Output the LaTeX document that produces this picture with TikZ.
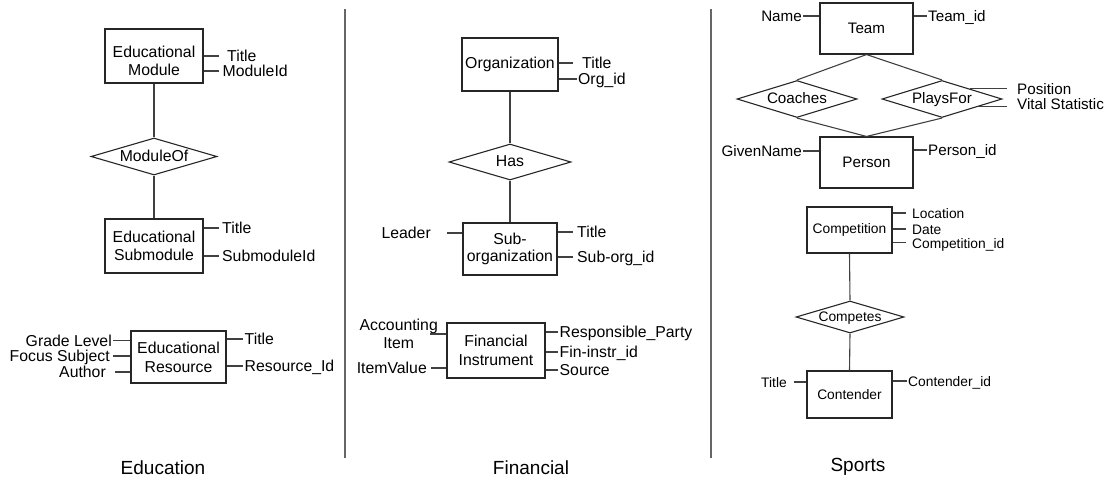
\documentclass[tikz,border=0pt]{standalone}
\usepackage{fontspec}
\setmainfont{Liberation Sans}
\usetikzlibrary{shapes.geometric}
\newcommand\fA{\fontsize{15.8}{18.5}\selectfont}
\newcommand\fAs{\fontsize{15.8}{17}\selectfont}
\newcommand\fAw{\fontsize{15.8}{19}\selectfont}
\newcommand\fB{\fontsize{15.2}{17}\selectfont}
\newcommand\fC{\fontsize{13.8}{16}\selectfont}
\newcommand\fD{\fontsize{19}{22}\selectfont}
\begin{document}
\begin{tikzpicture}[x=1pt,y=-1pt,
 ent/.style={draw=black!85, line width=1.1pt, rectangle, align=center, inner sep=0pt},
 rel/.style={draw=black!85, line width=1.1pt, diamond, aspect=3.4, inner sep=0pt, text height=9pt, text depth=0pt},
 attrR/.style={anchor=west, inner xsep=2pt, inner ysep=0pt, text height=11pt, text depth=0pt},
 attrL/.style={anchor=east, inner xsep=2pt, inner ysep=0pt, text height=11pt, text depth=0pt},
 conn/.style={draw=black!75, line width=1.1pt},
 divider/.style={draw=black!60, line width=1.3pt},
 caption/.style={font=\fD, inner sep=0pt}
]
\useasboundingbox (0,0) rectangle (1112,483);

% ---------------- Education ----------------
\node[ent, font=\fA, minimum width=98, minimum height=54] (em) at (154,56)
  {\raisebox{-7pt}[\height][\depth]{\begin{tabular}{@{}c@{}}Educational\\Module\end{tabular}}};
\node[attrR, font=\fA, inner xsep=8pt] (emT) at (219,56) {Title};
\node[attrR, font=\fA, inner xsep=3.5pt] (emI) at (219,71) {ModuleId};
\draw[conn] (em.east |- emT.west) -- (emT.west);
\draw[conn] (em.east |- emI.west) -- (emI.west);

\node[rel, font=\fA, aspect=3.4, minimum width=126, minimum height=37] (mo) at (154,156.5) {ModuleOf};
\draw[conn] (em.south) -- (mo.north);

\node[ent, font=\fA, minimum width=98, minimum height=54] (es) at (154,246) {Educational\\Submodule};
\draw[conn] (mo.south) -- (es.north);
\node[attrR, font=\fA, inner xsep=3pt] (esT) at (219,228) {Title};
\node[attrR, font=\fA, inner xsep=3pt] (esI) at (219,256) {SubmoduleId};
\draw[conn] (es.east |- esT.west) -- (esT.west);
\draw[conn] (es.east |- esI.west) -- (esI.west);

\node[ent, font=\fAw, minimum width=95, minimum height=52] (er) at (178.5,357) {Educational\\Resource};
\node[attrR, font=\fA, inner xsep=1.5pt] (erT) at (243,339) {Title};
\node[attrR, font=\fA, inner xsep=1.5pt] (erI) at (243,366) {Resource\_Id};
\draw[conn] (er.east |- erT.west) -- (erT.west);
\draw[conn] (er.east |- erI.west) -- (erI.west);
\node[attrL, font=\fA, inner xsep=1pt] (erG) at (113,340.5) {Grade Level};
\node[attrL, font=\fA, inner xsep=3pt] (erF) at (113,356) {Focus Subject};
\node[attrL, font=\fA, inner xsep=9pt] (erA) at (115,372) {Author};
\draw[conn] (erG.east) -- (er.west |- erG.east);
\draw[conn] (erF.east) -- (er.west |- erF.east);
\draw[conn] (erA.east) -- (er.west |- erA.east);

\node[caption] (capE) at (163,468) {Education};

% dividers
\draw[divider] (345,9) -- (345,458);
\draw[divider] (711,9) -- (711,458);

% ---------------- Financial ----------------
\node[ent, font=\fA, minimum width=96, minimum height=53] (org) at (510,64.5) {Organization};
\node[attrR, font=\fA, inner xsep=9pt] (orgT) at (573,63) {Title};
\node[attrR, font=\fA, inner xsep=1pt] (orgI) at (577,79) {Org\_id};
\draw[conn] (org.east |- orgT.west) -- (orgT.west);
\draw[conn] (org.east |- orgI.west) -- (orgI.west);

\node[rel, font=\fA, aspect=3.39, minimum width=122, minimum height=36] (has) at (510,162) {Has};
\draw[conn] (org.south) -- (has.north);

\node[ent, font=\fAs, minimum width=94, minimum height=52] (sub) at (510,249) {Sub-\\organization};
\draw[conn] (has.south) -- (sub.north);
\node[attrR, font=\fA, inner xsep=4pt] (subT) at (573,232) {Title};
\node[attrR, font=\fA, inner xsep=4pt] (subI) at (573,257) {Sub-org\_id};
\draw[conn] (sub.east |- subT.west) -- (subT.west);
\draw[conn] (sub.east |- subI.west) -- (subI.west);
\node[attrL, font=\fA, inner xsep=16pt] (lead) at (447,233) {Leader};
\draw[conn] (lead.east) -- (sub.west |- lead.east);

\node[ent, font=\fAw, minimum width=98, minimum height=55] (fin) at (496,350.5) {Financial\\Instrument};
\node[attrR, font=\fA, inner xsep=1.5pt] (rp) at (558,332) {Responsible\_Party};
\node[attrR, font=\fA, inner xsep=1.5pt] (fid) at (558,352) {Fin-instr\_id};
\node[attrR, font=\fA, inner xsep=1.5pt] (src) at (558,370) {Source};
\draw[conn] (fin.east |- rp.west) -- (rp.west);
\draw[conn] (fin.east |- fid.west) -- (fid.west);
\draw[conn] (fin.east |- src.west) -- (src.west);
\node[font=\fA, align=center, anchor=east, inner sep=0pt] (ai) at (438,334) {Accounting\\Item};
\draw[conn, shorten >=-8pt] (fin.west |- ai.east) -- (ai.east);
\node[attrL, font=\fA, inner xsep=4pt] (iv) at (431,368) {ItemValue};
\draw[conn] (iv.east) -- (fin.west |- iv.east);

\node[caption] (capF) at (531,468) {Financial};

% ---------------- Sports ----------------
\node[ent, font=\fB, minimum width=93, minimum height=51] (team) at (866.5,28.5) {Team};
\node[attrL, font=\fB, inner xsep=1pt] (tname) at (803,16) {Name};
\node[attrR, font=\fB, inner xsep=1pt] (tid) at (927,16) {Team\_id};
\draw[conn] (tname.east) -- (team.west |- tname.east);
\draw[conn] (team.east |- tid.west) -- (tid.west);

\node[rel, font=\fB, aspect=3.24, minimum width=120, minimum height=37] (coach) at (797,99) {Coaches};
\node[rel, font=\fB, aspect=3.24, minimum width=120, minimum height=37] (plays) at (942,99) {PlaysFor};

\node[ent, font=\fB, minimum width=93, minimum height=51] (person) at (866.5,162.5) {Person};
\draw[conn] (team.south) -- (coach.north);
\draw[conn] (team.south) -- (plays.north);
\draw[conn] (coach.south) -- (person.north);
\draw[conn] (plays.south) -- (person.north);

\node[attrR, font=\fB, inner xsep=10pt] (pos) at (1007,89) {Position};
\node[attrR, font=\fB, inner xsep=10pt] (vs) at (1007,104) {Vital Statistic};
\draw[conn] (plays.20) -- (plays.20 -| pos.west);
\draw[conn] (plays.-12) -- (plays.-12 -| vs.west);

\node[attrL, font=\fB, inner xsep=1pt] (gname) at (803,151) {GivenName};
\node[attrR, font=\fB, inner xsep=1pt] (pid) at (927,150) {Person\_id};
\draw[conn] (gname.east) -- (person.west |- gname.east);
\draw[conn] (person.east |- pid.west) -- (pid.west);

\node[ent, font=\fC, minimum width=85, minimum height=46] (comp) at (849.5,230) {Competition};
\node[attrR, font=\fC, inner xsep=6pt] (loc) at (906,213) {Location};
\node[attrR, font=\fC, inner xsep=6pt] (date) at (906,229) {Date};
\node[attrR, font=\fC, inner xsep=6pt] (cid) at (906,242.5) {Competition\_id};
\draw[conn] (comp.east |- loc.west) -- (loc.west);
\draw[conn] (comp.east |- date.west) -- (date.west);
\draw[conn] (comp.east |- cid.west) -- (cid.west);

\node[rel, font=\fC, aspect=3.375, minimum width=108, minimum height=32] (compt) at (850,317) {Competes};
\draw[conn] (comp.south) -- (compt.north);

\node[ent, font=\fC, minimum width=85, minimum height=47] (cont) at (849.5,394.5) {Contender};
\draw[conn] (compt.south) -- (cont.north);
\node[attrL, font=\fC, inner xsep=7pt] (ctitle) at (794,382) {Title};
\node[attrR, font=\fC, inner xsep=1pt] (ctid) at (907,381) {Contender\_id};
\draw[conn] (ctitle.east) -- (cont.west |- ctitle.east);
\draw[conn] (cont.east |- ctid.west) -- (ctid.west);

\node[caption] (capS) at (858,467) {Sports};
\end{tikzpicture}
\end{document}
